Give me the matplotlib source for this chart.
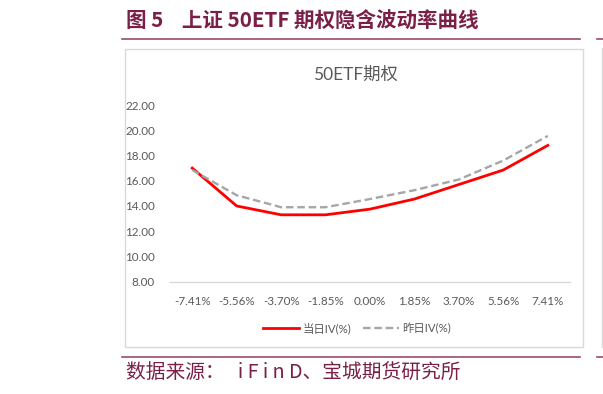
import matplotlib.pyplot as plt
from matplotlib.patches import Rectangle
from matplotlib.lines import Line2D

plt.rcParams['font.family'] = ['Lato', 'Noto Sans CJK SC', 'DejaVu Sans']

# data
strikes = ['-7.41%', '-5.56%', '-3.70%', '-1.85%', '0.00%', '1.85%', '3.70%', '5.56%', '7.41%']
iv_today = [17.0, 14.0, 13.3, 13.3, 13.75, 14.55, 15.7, 16.85, 18.8]
iv_prev = [16.85, 14.85, 13.9, 13.9, 14.55, 15.25, 16.1, 17.6, 19.55]
yticks = [8, 10, 12, 14, 16, 18, 20, 22]

W, H = 603, 394
maroon = '#7a2048'
rule = '#9a4a6c'
grey_txt = '#595959'


def fx(x):
    return x / W


def fy(y):
    return 1 - y / H


fig = plt.figure(figsize=(W / 100, H / 100), dpi=100)

# header / footer rules and the chart frame
fig.add_artist(Line2D([fx(122), fx(580)], [fy(38.5), fy(38.5)], color=rule, lw=1.2))
fig.add_artist(Line2D([fx(597), fx(603)], [fy(38.5), fy(38.5)], color=rule, lw=1.2))
fig.add_artist(Line2D([fx(122), fx(580)], [fy(356.5), fy(356.5)], color=rule, lw=1.2))
fig.add_artist(Line2D([fx(597), fx(603)], [fy(356.5), fy(356.5)], color=rule, lw=1.2))
frame = Rectangle((fx(125), fy(347)), fx(583 - 125), (347 - 49) / H,
                  facecolor='white', edgecolor='#d9d9d9', lw=1.0, zorder=-5)
fig.add_artist(frame)
fig.add_artist(Line2D([fx(601.5), fx(601.5)], [fy(48), fy(347)], color='#d9d9d9', lw=1.0))

fig.text(fx(126), fy(21), '图 5    上证 50ETF 期权隐含波动率曲线', color=maroon,
         fontsize=14.8, fontweight='bold', va='center', ha='left',
         family=['Noto Sans CJK SC', 'DejaVu Sans'])
fig.text(fx(126), fy(373), '数据来源：   i F i n D、宝城期货研究所', color=maroon,
         fontsize=14.2, va='center', ha='left',
         family=['Noto Sans CJK SC', 'DejaVu Sans'])
fig.text(fx(355), fy(75), '50ETF期权', color=grey_txt, fontsize=12.5,
         va='center', ha='center')

ax = fig.add_axes([fx(170), fy(281.7), 400 / W, (281.7 - 105) / H])
ax.set_zorder(5)
ax.patch.set_alpha(0)
x = range(len(strikes))
ax.plot(x, iv_today, color='#ff0000', lw=2.0, label='当日IV(%)')
ax.plot(x, iv_prev, color='#a6a6a6', lw=1.7, linestyle=(0, (3.2, 1.6)), label='昨日IV(%)')

ax.set_xlim(-0.5, len(strikes) - 0.5)
ax.set_ylim(8, 22)
ax.set_xticks(list(x))
ax.set_xticklabels(strikes)
ax.set_yticks(yticks)
ax.set_yticklabels(['%.2f' % v for v in yticks])
ax.tick_params(axis='both', length=0, labelsize=8.4, labelcolor=grey_txt)
ax.tick_params(axis='x', pad=10)
ax.tick_params(axis='y', pad=11)
for s in ['top', 'right', 'left']:
    ax.spines[s].set_visible(False)
ax.spines['bottom'].set_color('#d9d9d9')
ax.spines['bottom'].set_linewidth(1.0)

ax.legend(loc='center', bbox_to_anchor=(0.4675, -0.265), ncol=2, frameon=False,
          fontsize=8.2, labelcolor=grey_txt, handlelength=3.2,
          columnspacing=1.0, handletextpad=0.3)

fig.savefig('out.png', dpi=100)
